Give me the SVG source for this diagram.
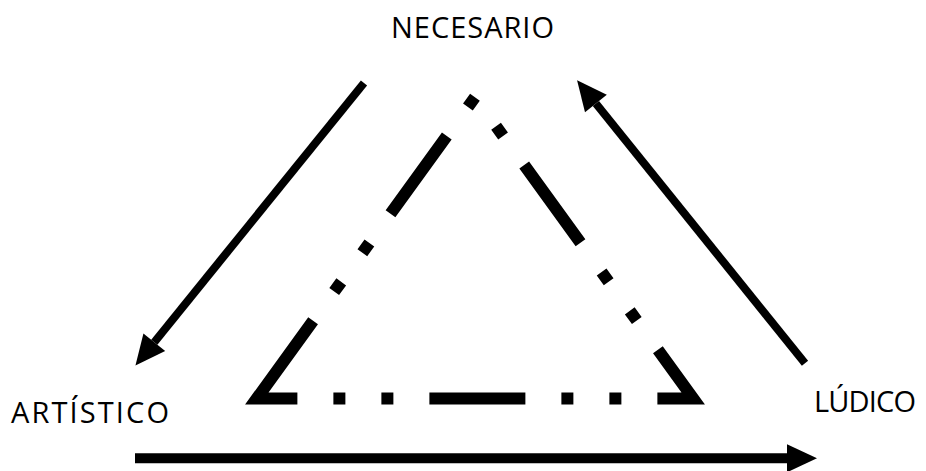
<svg xmlns="http://www.w3.org/2000/svg" width="926" height="471" viewBox="0 0 926 471">
  <style>
    .lbl { font-family: "Open Sans", "Liberation Sans", sans-serif; font-size: 29px; fill: #000; }
    .arrow { stroke: #000; fill: none; stroke-linecap: butt; }
    .tri { stroke: #000; fill: none; stroke-width: 12; stroke-linejoin: miter; stroke-linecap: butt; stroke-dasharray: 96 36 12 36 12 36; }
  </style>
  <defs>
    <marker id="head" markerUnits="userSpaceOnUse" markerWidth="32" markerHeight="30" refX="0" refY="14" orient="auto" overflow="visible">
      <path d="M0,0 L30,14 L0,28 Z" fill="#000"/>
    </marker>
  </defs>
  <rect width="926" height="471" fill="#fff"/>
  <g id="triangle">
    <path class="tri" d="M256.8,398.5 L475,97.1 L693.2,398.5 Z"/>
  </g>
  <g id="node-necesario"><text class="lbl" x="391" y="38" textLength="163" lengthAdjust="spacing">NECESARIO</text></g>
  <g id="node-artistico"><text class="lbl" x="11" y="423" textLength="158" lengthAdjust="spacing">ARTÍSTICO</text></g>
  <g id="node-ludico"><text class="lbl" x="814" y="412" textLength="102" lengthAdjust="spacing">LÚDICO</text></g>
  <g id="connectors">
    <line class="arrow" stroke-width="8" x1="364" y1="83" x2="154.3" y2="342.2" marker-end="url(#head)"/>
    <line class="arrow" stroke-width="8" x1="805" y1="363.3" x2="595.9" y2="103.5" marker-end="url(#head)"/>
    <line class="arrow" stroke-width="10" x1="135" y1="458.3" x2="787" y2="458.3" marker-end="url(#head)"/>
  </g>
</svg>
